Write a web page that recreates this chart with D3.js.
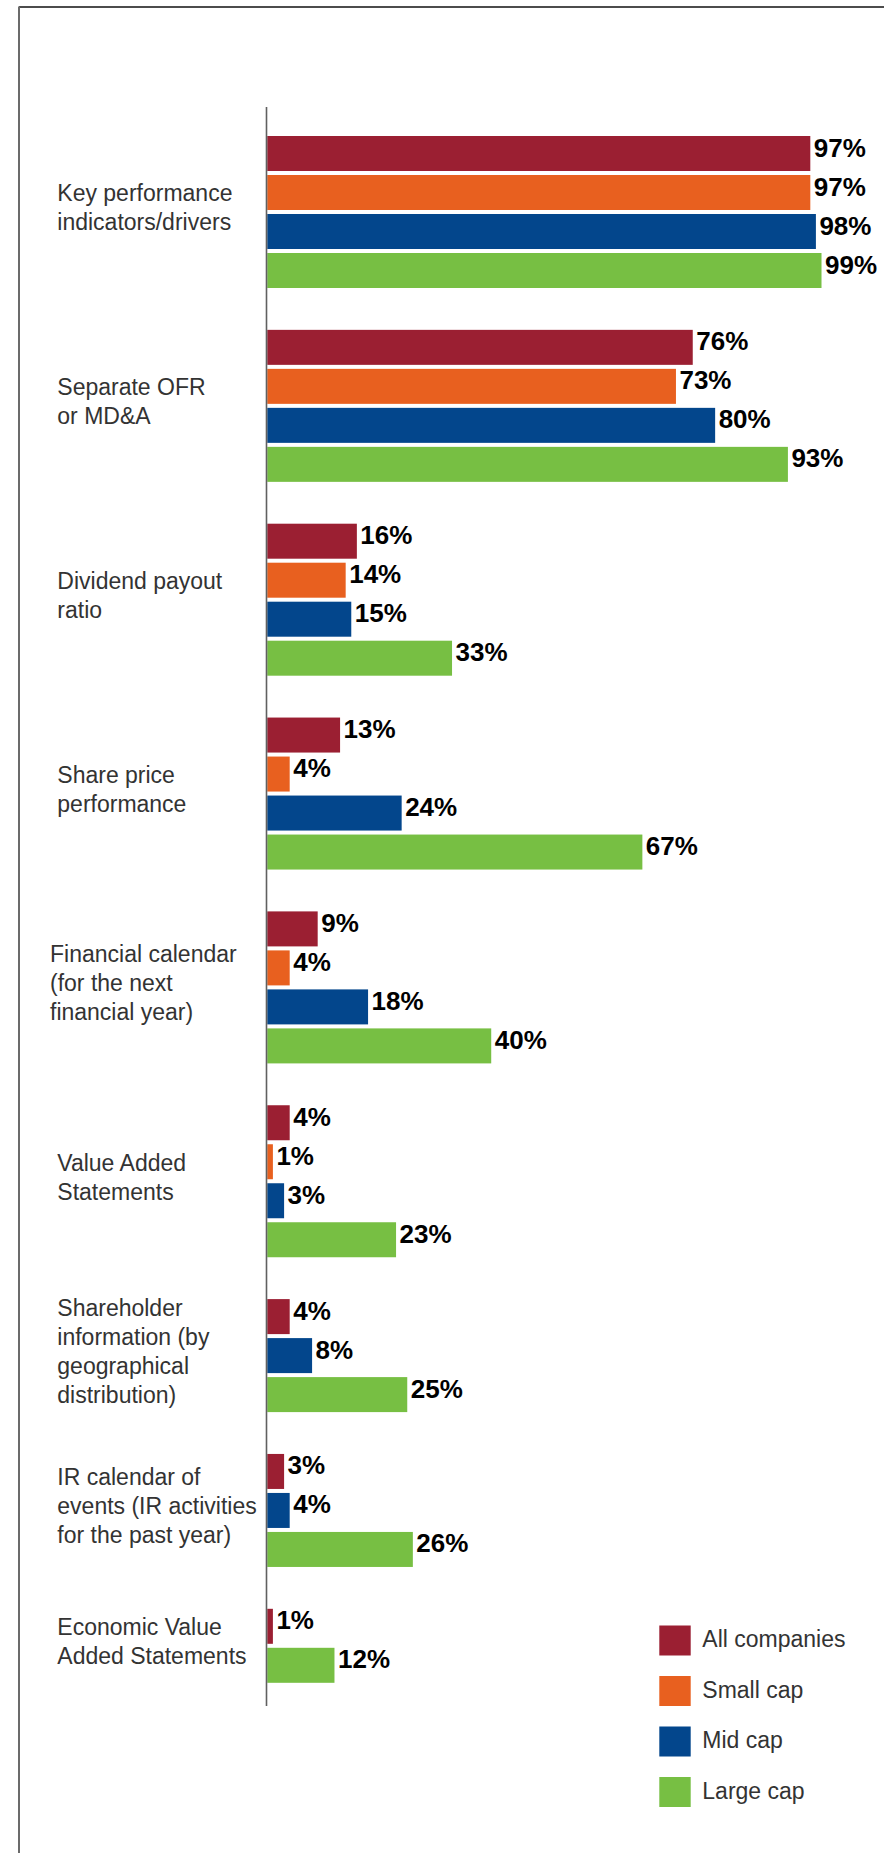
<!DOCTYPE html>
<html>
<head>
<meta charset="utf-8">
<script src="https://cdn.jsdelivr.net/npm/d3@7"></script>
<style>
  html, body { margin: 0; padding: 0; background: #fff; }
  svg { display: block; }
</style>
</head>
<body>
<svg id="chart" width="884" height="1853"></svg>
<script>
// Disclosure items (one label per group, split into display lines)
const categoryLines = [
  ["Key performance", "indicators/drivers"],
  ["Separate OFR", "or MD&A"],
  ["Dividend payout", "ratio"],
  ["Share price", "performance"],
  ["Financial calendar", "(for the next", "financial year)"],
  ["Value Added", "Statements"],
  ["Shareholder", "information (by", "geographical", "distribution)"],
  ["IR calendar of", "events (IR activities", "for the past year)"],
  ["Economic Value", "Added Statements"]
];

// Series names and colours
const seriesNames = ["All companies", "Small cap", "Mid cap", "Large cap"];
const seriesColors = ["#9b1f32", "#e8601f", "#03468c", "#77bf43"];

// Percentage of companies disclosing each item (null = not reported)
const allCompanies = [97, 76, 16, 13, 9, 4, 4, 3, 1];
const smallCap     = [97, 73, 14, 4, 4, 1, null, null, null];
const midCap       = [98, 80, 15, 24, 18, 3, 8, 4, null];
const largeCap     = [99, 93, 33, 67, 40, 23, 25, 26, 12];

const seriesValues = [allCompanies, smallCap, midCap, largeCap];

// ---- layout ----
const svg = d3.select("#chart");
const FONT = "'Liberation Sans', Arial, Helvetica, sans-serif";

// value axis: 0-100%
const x = d3.scaleLinear().domain([0, 100]).range([267.3, 827.1]);
// vertical position in "row" units (one row = one bar slot)
const y = d3.scaleLinear().domain([0, 1]).range([136, 175]);
const barFrac = 35 / 39;     // bar thickness within a row
const groupGap = 37.85 / 39; // extra space between groups

// flatten into bar records with their row position
const bars = [];
const groups = [];
let rowCursor = 0;
categoryLines.forEach((lines, g) => {
  const start = rowCursor;
  seriesValues.forEach((vals, s) => {
    const v = vals[g];
    if (v === null || v === undefined) return;
    bars.push({ g, s, v, row: rowCursor });
    rowCursor += 1;
  });
  groups.push({ g, lines, first: start, last: rowCursor - 1 });
  rowCursor += groupGap;
});

// frame (top and left rules)
svg.append("line")
  .attr("x1", 19).attr("x2", 884).attr("y1", 7).attr("y2", 7)
  .attr("stroke", "#111").attr("stroke-width", 1.5);
svg.append("line")
  .attr("x1", 19).attr("x2", 19).attr("y1", 6.5).attr("y2", 1853)
  .attr("stroke", "#6b6b6b").attr("stroke-width", 2);

// bars
svg.append("g").selectAll("rect")
  .data(bars)
  .join("rect")
  .attr("x", x(0))
  .attr("y", d => y(d.row))
  .attr("width", d => x(d.v) - x(0))
  .attr("height", d => y(d.row + barFrac) - y(d.row))
  .attr("fill", d => seriesColors[d.s]);

// value labels
svg.append("g").selectAll("text")
  .data(bars)
  .join("text")
  .attr("x", d => x(d.v) + 3.5)
  .attr("y", d => y(d.row) + 20.5)
  .attr("font-family", FONT)
  .attr("font-weight", "bold")
  .attr("font-size", 26)
  .attr("fill", "#000")
  .text(d => d.v + "%");

// category axis line
svg.append("line")
  .attr("x1", 266.5).attr("x2", 266.5)
  .attr("y1", 107).attr("y2", 1706)
  .attr("stroke", "#444").attr("stroke-opacity", 0.85)
  .attr("stroke-width", 1.6);

// category labels, vertically centred on their group
const lineH = 29, capH = 16.5;
const labelX = g => (g === 4 ? 50 : 57.3);
const labelG = svg.append("g")
  .attr("font-family", FONT)
  .attr("font-size", 23)
  .attr("fill", "#333");
groups.forEach(gr => {
  const top = y(gr.first), bottom = y(gr.last + barFrac);
  const center = (top + bottom) / 2 - 4.5;
  const block = capH + (gr.lines.length - 1) * lineH;
  const firstBase = center - block / 2 + capH;
  const t = labelG.append("text").attr("x", labelX(gr.g)).attr("y", firstBase);
  gr.lines.forEach((ln, i) => {
    t.append("tspan")
      .attr("x", labelX(gr.g))
      .attr("dy", i === 0 ? 0 : lineH)
      .text(ln);
  });
});

// legend
const legendY = d3.scaleLinear().domain([0, 1]).range([1625.5, 1676]);
const legend = svg.append("g").selectAll("g")
  .data(seriesNames)
  .join("g")
  .attr("transform", (d, i) => `translate(659.3,${legendY(i)})`);
legend.append("rect")
  .attr("width", 31.4).attr("height", 30)
  .attr("fill", (d, i) => seriesColors[i]);
legend.append("text")
  .attr("x", 43).attr("y", 21.5)
  .attr("font-family", FONT)
  .attr("font-size", 23)
  .attr("fill", "#333")
  .text(d => d);
</script>
</body>
</html>
